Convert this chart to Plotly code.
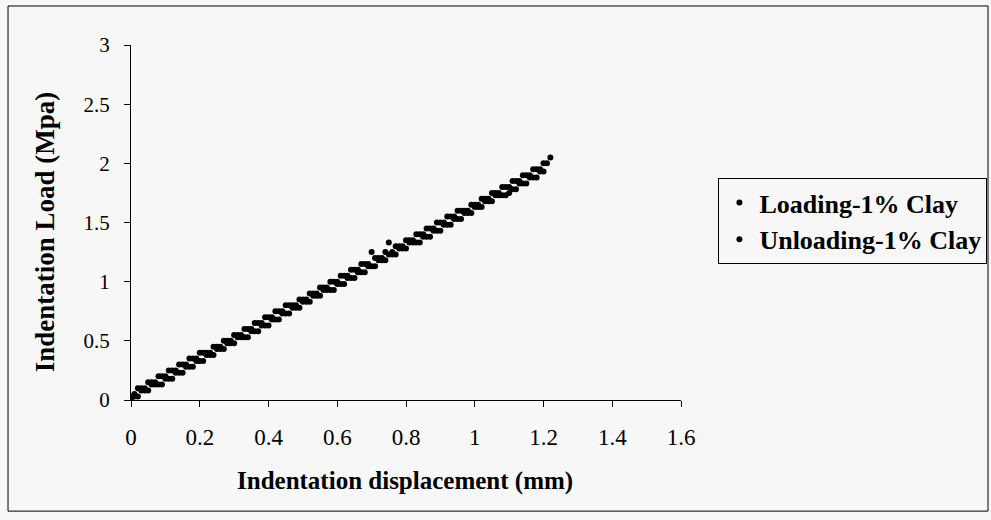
import plotly.graph_objects as go

# Loading series (displacement mm, load MPa)
loading_x = [
    0.00, 0.01, 0.02, 0.03, 0.04, 0.05, 0.06, 0.07, 0.08, 0.09,
    0.10, 0.11, 0.12, 0.13, 0.14, 0.15, 0.16, 0.17, 0.18, 0.19,
    0.20, 0.21, 0.22, 0.23, 0.24, 0.25, 0.26, 0.27, 0.28, 0.29,
    0.30, 0.31, 0.32, 0.33, 0.34, 0.35, 0.36, 0.37, 0.38, 0.39,
    0.40, 0.41, 0.42, 0.43, 0.44, 0.45, 0.46, 0.47, 0.48, 0.49,
    0.50, 0.51, 0.52, 0.53, 0.54, 0.55, 0.56, 0.57, 0.58, 0.59,
    0.60, 0.61, 0.62, 0.63, 0.64, 0.65, 0.66, 0.67, 0.68, 0.69,
    0.70, 0.71, 0.72, 0.73, 0.74, 0.75, 0.76, 0.77, 0.78, 0.79,
    0.80, 0.81, 0.82, 0.83, 0.84, 0.85, 0.86, 0.87, 0.88, 0.89,
    0.90, 0.91, 0.92, 0.93, 0.94, 0.95, 0.96, 0.97, 0.98, 0.99,
    1.00, 1.01, 1.02, 1.03, 1.04, 1.05, 1.06, 1.07, 1.08, 1.09,
    1.10, 1.11, 1.12, 1.13, 1.14, 1.15, 1.16, 1.17, 1.18, 1.19,
    1.20, 1.21, 1.22,
]
loading_y = [
    0.00, 0.05, 0.10, 0.10, 0.10, 0.15, 0.15, 0.15, 0.20, 0.20,
    0.20, 0.25, 0.25, 0.25, 0.30, 0.30, 0.30, 0.35, 0.35, 0.35,
    0.40, 0.40, 0.40, 0.40, 0.45, 0.45, 0.45, 0.50, 0.50, 0.50,
    0.55, 0.55, 0.55, 0.60, 0.60, 0.60, 0.65, 0.65, 0.65, 0.70,
    0.70, 0.70, 0.75, 0.75, 0.75, 0.80, 0.80, 0.80, 0.80, 0.85,
    0.85, 0.85, 0.90, 0.90, 0.90, 0.95, 0.95, 0.95, 1.00, 1.00,
    1.00, 1.05, 1.05, 1.05, 1.10, 1.10, 1.10, 1.15, 1.15, 1.15,
    1.25, 1.20, 1.20, 1.20, 1.25, 1.33, 1.25, 1.30, 1.30, 1.30,
    1.35, 1.35, 1.35, 1.40, 1.40, 1.40, 1.45, 1.45, 1.45, 1.50,
    1.50, 1.50, 1.55, 1.55, 1.55, 1.60, 1.60, 1.60, 1.60, 1.65,
    1.65, 1.65, 1.70, 1.70, 1.70, 1.75, 1.75, 1.75, 1.80, 1.80,
    1.80, 1.85, 1.85, 1.85, 1.90, 1.90, 1.90, 1.95, 1.95, 1.95,
    2.00, 2.00, 2.05,
]

# Unloading series
unloading_x = [
    0.00, 0.01, 0.02, 0.03, 0.04, 0.05, 0.06, 0.07, 0.08, 0.09,
    0.10, 0.11, 0.12, 0.13, 0.14, 0.15, 0.16, 0.17, 0.18, 0.19,
    0.20, 0.21, 0.22, 0.23, 0.24, 0.25, 0.26, 0.27, 0.28, 0.29,
    0.30, 0.31, 0.32, 0.33, 0.34, 0.35, 0.36, 0.37, 0.38, 0.39,
    0.40, 0.41, 0.42, 0.43, 0.44, 0.45, 0.46, 0.47, 0.48, 0.49,
    0.50, 0.51, 0.52, 0.53, 0.54, 0.55, 0.56, 0.57, 0.58, 0.59,
    0.60, 0.61, 0.62, 0.63, 0.64, 0.65, 0.66, 0.67, 0.68, 0.69,
    0.70, 0.71, 0.72, 0.73, 0.74, 0.75, 0.76, 0.77, 0.78, 0.79,
    0.80, 0.81, 0.82, 0.83, 0.84, 0.85, 0.86, 0.87, 0.88, 0.89,
    0.90, 0.91, 0.92, 0.93, 0.94, 0.95, 0.96, 0.97, 0.98, 0.99,
    1.00, 1.01, 1.02, 1.03, 1.04, 1.05, 1.06, 1.07, 1.08, 1.09,
    1.10, 1.11, 1.12, 1.13, 1.14, 1.15, 1.16, 1.17, 1.18, 1.19,
    1.20,
]
unloading_y = [
    0.03, 0.03, 0.03, 0.08, 0.08, 0.08, 0.13, 0.13, 0.13, 0.13,
    0.18, 0.18, 0.18, 0.23, 0.23, 0.23, 0.28, 0.28, 0.28, 0.33,
    0.33, 0.33, 0.38, 0.38, 0.38, 0.43, 0.43, 0.43, 0.48, 0.48,
    0.48, 0.53, 0.53, 0.53, 0.53, 0.58, 0.58, 0.58, 0.63, 0.63,
    0.63, 0.68, 0.68, 0.68, 0.73, 0.73, 0.73, 0.78, 0.78, 0.78,
    0.83, 0.83, 0.83, 0.88, 0.88, 0.88, 0.93, 0.93, 0.93, 0.93,
    0.98, 0.98, 0.98, 1.03, 1.03, 1.03, 1.08, 1.08, 1.08, 1.13,
    1.13, 1.13, 1.18, 1.18, 1.18, 1.23, 1.23, 1.23, 1.28, 1.28,
    1.28, 1.33, 1.33, 1.33, 1.33, 1.38, 1.38, 1.38, 1.43, 1.43,
    1.43, 1.48, 1.48, 1.48, 1.53, 1.53, 1.53, 1.58, 1.58, 1.58,
    1.63, 1.63, 1.63, 1.68, 1.68, 1.68, 1.73, 1.73, 1.73, 1.73,
    1.75, 1.78, 1.78, 1.83, 1.83, 1.83, 1.88, 1.88, 1.88, 1.93,
    1.93,
]

series_names = ["Loading-1% Clay", "Unloading-1% Clay"]
x_ticks = [0, 0.2, 0.4, 0.6, 0.8, 1, 1.2, 1.4, 1.6]
y_ticks = [0, 0.5, 1, 1.5, 2, 2.5, 3]

SERIF = "Liberation Serif"
BG = "#f7f7f7"

fig = go.Figure()
fig.add_trace(go.Scatter(
    x=loading_x, y=loading_y, mode="markers", name=series_names[0],
    marker=dict(symbol="circle", size=6, color="black", line=dict(width=0)),
))
fig.add_trace(go.Scatter(
    x=unloading_x, y=unloading_y, mode="markers", name=series_names[1],
    marker=dict(symbol="circle", size=6, color="black", line=dict(width=0)),
))

axis_common = dict(
    showgrid=False, zeroline=False, showline=True, linecolor="black", linewidth=1,
    ticks="outside", ticklen=6, tickwidth=1, tickcolor="black", automargin=False,
)
fig.update_xaxes(range=[0, 1.6], tickvals=x_ticks,
                 ticktext=[f"{v:g}" for v in x_ticks], ticklabelstandoff=10,
                 tickfont=dict(family=SERIF, size=23, color="black"),
                 **axis_common)
fig.update_yaxes(range=[0, 3], tickvals=y_ticks,
                 ticktext=[f"{v:g}" for v in y_ticks], ticklabelstandoff=10,
                 tickfont=dict(family=SERIF, size=21, color="black"),
                 **axis_common)

fig.add_annotation(text="Indentation displacement (mm)", xref="paper", yref="paper",
                   x=0.498, y=-0.228, xanchor="center", yanchor="middle", showarrow=False,
                   font=dict(family=SERIF, size=25, color="black", weight="bold"))
fig.add_annotation(text="Indentation Load (Mpa)", xref="paper", yref="paper",
                   x=-0.156, y=0.473, xanchor="center", yanchor="middle",
                   showarrow=False, textangle=-90,
                   font=dict(family=SERIF, size=27, color="black", weight="bold"))

# outer chart border
fig.add_shape(type="rect", xref="paper", yref="paper",
              x0=-0.2236, x1=1.5582, y0=-0.313, y1=1.1099,
              line=dict(color="black", width=1))

fig.update_layout(
    width=991, height=520,
    margin=dict(l=131, r=310, t=45, b=120, autoexpand=False),
    paper_bgcolor=BG, plot_bgcolor=BG,
    showlegend=True,
    legend=dict(
        x=1.068, y=0.625, xanchor="left", yanchor="top",
        bordercolor="black", borderwidth=1, bgcolor=BG,
        font=dict(family=SERIF, size=26, color="black", weight="bold"),
        itemsizing="trace", itemwidth=30,
    ),
)

fig.write_html("out.html")
